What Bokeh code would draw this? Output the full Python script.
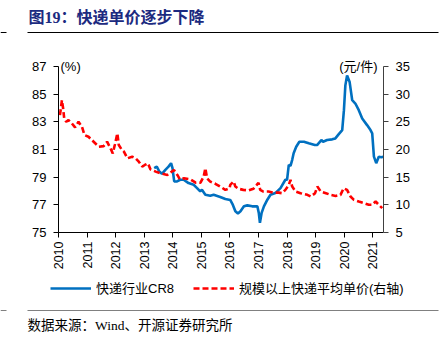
import math
from bokeh.plotting import figure
from bokeh.layouts import column
from bokeh.models import (Range1d, LinearAxis, FixedTicker, Legend, LegendItem, Label)
from bokeh.core.properties import value
from bokeh.embed import file_html
from bokeh.resources import INLINE

# ---------------- data ----------------
title_text = "图19：快递单价逐步下降"
source_text = "数据来源：Wind、开源证券研究所"
cr8_name = "快递行业CR8"
price_name = "规模以上快递平均单价(右轴)"
left_unit = "(%)"
right_unit = "(元/件)"

year_ticks = [2010, 2011, 2012, 2013, 2014, 2015, 2016, 2017, 2018, 2019, 2020, 2021]
year_labels = ["2010", "2011", "2012", "2013", "2014", "2015", "2016", "2017", "2018", "2019", "2020", "2021"]
left_ticks = [75, 77, 79, 81, 83, 85, 87]
right_ticks = [5, 10, 15, 20, 25, 30, 35]

cr8_x = [2013.35, 2013.44, 2013.53, 2013.62, 2013.74, 2013.85, 2013.94, 2013.99, 2014.05, 2014.15,
         2014.26, 2014.38, 2014.55, 2014.73, 2014.85, 2014.96, 2015.02, 2015.14, 2015.31, 2015.43,
         2015.66, 2015.84, 2016.01, 2016.10, 2016.19, 2016.28, 2016.37, 2016.49, 2016.61, 2016.78,
         2016.96, 2017.01, 2017.05, 2017.11, 2017.19, 2017.31, 2017.42, 2017.59, 2017.77, 2017.94,
         2018.00, 2018.06, 2018.12, 2018.18, 2018.23, 2018.32, 2018.43, 2018.59, 2018.76, 2018.97,
         2019.05, 2019.20, 2019.26, 2019.40, 2019.58, 2019.69, 2019.81, 2019.93, 2019.99, 2020.04,
         2020.10, 2020.19, 2020.28, 2020.39, 2020.51, 2020.63, 2020.80, 2020.92, 2020.98, 2021.04,
         2021.12, 2021.21, 2021.30, 2021.37]
cr8_y = [79.65, 79.76, 79.40, 79.24, 79.53, 79.76, 80.01, 79.65, 78.69, 78.69,
         78.81, 78.81, 78.57, 78.45, 78.21, 77.97, 78.09, 77.73, 77.66, 77.73,
         77.57, 77.42, 77.35, 77.01, 76.53, 76.37, 76.53, 76.89, 76.96, 76.89,
         76.89, 76.42, 75.70, 76.42, 76.89, 77.37, 77.73, 77.85, 78.21, 78.81,
         78.81, 79.89, 79.81, 80.25, 80.73, 81.20, 81.56, 81.56, 81.45, 81.32,
         81.32, 81.68, 81.56, 81.68, 81.73, 81.80, 82.11, 82.40, 83.84, 85.63,
         86.35, 85.87, 84.56, 84.32, 83.84, 83.24, 82.76, 82.40, 82.16, 80.48,
         80.01, 80.48, 80.44, 80.48]

price_x = [2010.05, 2010.08, 2010.12, 2010.16, 2010.20, 2010.27, 2010.35, 2010.47, 2010.58, 2010.70,
           2010.82, 2010.91, 2011.05, 2011.23, 2011.41, 2011.58, 2011.70, 2011.82, 2011.90, 2011.97,
           2012.06, 2012.11, 2012.21, 2012.29, 2012.41, 2012.58, 2012.70, 2012.81, 2012.93, 2013.02,
           2013.13, 2013.22, 2013.40, 2013.57, 2013.81, 2014.04, 2014.16, 2014.25, 2014.39, 2014.62,
           2014.80, 2014.97, 2015.08, 2015.14, 2015.20, 2015.31, 2015.49, 2015.66, 2015.84, 2015.99,
           2016.01, 2016.13, 2016.19, 2016.30, 2016.47, 2016.65, 2016.82, 2016.94, 2017.00, 2017.06,
           2017.17, 2017.35, 2017.53, 2017.71, 2017.82, 2017.94, 2018.06, 2018.12, 2018.18, 2018.30,
           2018.47, 2018.71, 2018.83, 2018.98, 2019.06, 2019.18, 2019.36, 2019.53, 2019.70, 2019.87,
           2019.98, 2020.10, 2020.22, 2020.34, 2020.51, 2020.69, 2020.86, 2020.98, 2021.10, 2021.21,
           2021.33]
price_y = [26.2, 27.3, 28.9, 27.5, 25.6, 25.0, 25.3, 24.7, 24.0, 25.0,
           24.1, 22.6, 22.3, 21.4, 20.5, 20.6, 21.4, 20.2, 19.3, 20.8,
           22.9, 20.8, 20.0, 19.6, 18.4, 18.7, 18.4, 17.8, 16.9, 17.2,
           17.5, 16.4, 16.0, 15.7, 15.4, 16.3, 15.4, 14.6, 14.8, 14.6,
           14.0, 14.0, 15.1, 16.6, 14.8, 14.2, 13.8, 13.3, 12.7, 13.0,
           13.6, 14.2, 13.3, 12.9, 12.7, 12.6, 12.9, 13.6, 14.0, 12.7,
           12.4, 12.4, 12.2, 12.2, 12.1, 12.7, 13.6, 14.5, 13.3, 12.4,
           12.1, 11.8, 11.5, 12.1, 13.3, 12.4, 12.1, 11.8, 11.6, 11.8,
           13.0, 12.7, 11.5, 10.9, 10.6, 10.3, 10.0, 10.0, 10.6, 10.0,
           9.4]

W = 443
TITLE_FONT = value("Liberation Serif, Noto Sans CJK SC")
SANS = "Liberation Sans, Noto Sans CJK SC"
BLUE = "#0070C0"
RED = "#FF0000"

# ---------------- header ----------------
hdr = figure(width=W, height=50, x_range=Range1d(0, W), y_range=Range1d(50, 0),
             output_backend="svg", toolbar_location=None, min_border=0, frame_align=False)
hdr.axis.visible = False
hdr.grid.visible = False
hdr.outline_line_color = None
hdr.text(x=[28], y=[17], text=[title_text], text_font=TITLE_FONT, text_font_style="bold",
         text_font_size="16px", text_color="#1C2A80", text_baseline="middle", text_align="left")
hdr.segment(x0=[0, 27], y0=[32, 32], x1=[6, 438], y1=[32, 32], line_color="#000000", line_width=1.2)

# ---------------- main chart ----------------
# frame extends a little above the top tick so the unit labels are not clipped;
# the axes themselves are bounded to the tick range.
p = figure(width=W, height=222, x_range=Range1d(2010, 2021.375), y_range=Range1d(75, 87.79),
           output_backend="svg", toolbar_location=None, frame_align=False,
           min_border_left=58, min_border_right=60, min_border_top=5, min_border_bottom=39)
p.extra_y_ranges = {"price": Range1d(5, 36.976)}
p.grid.visible = False
p.outline_line_color = None
p.background_fill_color = "white"

p.line(cr8_x, cr8_y, line_color=BLUE, line_width=2.6)
p.line(price_x, price_y, y_range_name="price", line_color=RED, line_width=2.6, line_dash="6 3")

def style_axis(ax, color="#000000"):
    ax.axis_line_color = color
    ax.major_tick_line_color = color
    ax.minor_tick_line_color = None
    ax.major_tick_in = 0
    ax.major_tick_out = 5
    ax.major_label_text_font = SANS
    ax.major_label_text_font_size = "13px"
    ax.major_label_text_color = "#000000"

xa = p.xaxis[0]
xa.ticker = FixedTicker(ticks=year_ticks)
xa.major_label_overrides = {t: l for t, l in zip(year_ticks, year_labels)}
xa.major_label_orientation = math.pi / 2
style_axis(xa)
xa.major_label_standoff = 4
xa.major_label_text_font_size = "12.5px"

ya = p.yaxis[0]
ya.ticker = FixedTicker(ticks=left_ticks)
ya.bounds = (left_ticks[0], left_ticks[-1])
style_axis(ya)
ya.major_label_standoff = 7

ra = LinearAxis(y_range_name="price", ticker=FixedTicker(ticks=right_ticks),
                bounds=(right_ticks[0], right_ticks[-1]))
style_axis(ra, "#404040")
ra.major_label_standoff = 7
p.add_layout(ra, "right")

p.add_layout(Label(x=2010, y=87, x_offset=2, text=left_unit, text_baseline="middle",
                   text_font=SANS, text_font_size="13px", text_color="#000000"))
p.add_layout(Label(x=2021.375, y=87, x_offset=-6, text=right_unit, text_baseline="middle",
                   text_align="right", text_font=SANS, text_font_size="13px", text_color="#000000"))

# ---------------- footer (legend + source) ----------------
ftr = figure(width=W, height=65, x_range=Range1d(0, W), y_range=Range1d(337, 272),
             output_backend="svg", toolbar_location=None, min_border=0, frame_align=False)
ftr.axis.visible = False
ftr.grid.visible = False
ftr.outline_line_color = None
# legend keys share the series' styles (hidden copies of the two series)
k_cr8 = ftr.line(cr8_x, cr8_y, line_color=BLUE, line_width=2.6, visible=False)
k_price = ftr.line(price_x, price_y, line_color=RED, line_width=2.6, line_dash="6 3", visible=False)
legend = Legend(items=[LegendItem(label=cr8_name, renderers=[k_cr8]),
                       LegendItem(label=price_name, renderers=[k_price])],
                orientation="horizontal", location=(50, 40), glyph_width=41, glyph_height=16,
                label_standoff=5, spacing=19, padding=0, margin=0, border_line_color=None,
                label_text_font=SANS, label_text_font_size="13px", label_text_color="#000000",
                background_fill_alpha=0)
ftr.add_layout(legend)
ftr.segment(x0=[0, 27], y0=[310, 310], x1=[6, 438], y1=[310, 310], line_color="#808080", line_width=1.2)
ftr.text(x=[27], y=[325], text=[source_text], text_font=TITLE_FONT, text_font_size="13.5px",
         text_color="#000000", text_baseline="middle", text_align="left")

layout = column(hdr, p, ftr, spacing=0)
open("out.html", "w").write(file_html(layout, INLINE))
